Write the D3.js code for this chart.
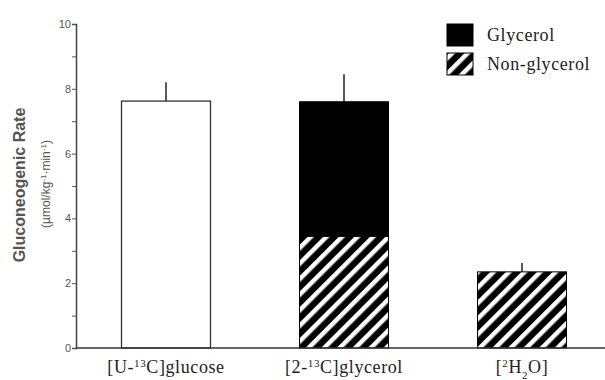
<!DOCTYPE html>
<html>
<head>
<meta charset="utf-8">
<script src="https://cdn.jsdelivr.net/npm/d3@7"></script>
<style>
  body { margin: 0; background: #fff; }
  svg { display: block; }
</style>
</head>
<body>
<svg id="chart" width="605" height="380"></svg>
<script>
// data
var methods = ["glucose", "glycerol", "water"];
var glycerolPart = [0, 4.15, 0];
var nonGlycerolPart = [0, 3.45, 2.35];
var wholeBar = [7.62, 0, 0];
var errTop = [8.2, 8.45, 2.62];
var yTicks = [0, 2, 4, 6, 8, 10];

var svg = d3.select("#chart");

// scales
var x = d3.scaleBand().domain(methods).range([77, 611]).paddingInner(0.5).paddingOuter(0.25);
var y = d3.scaleLinear().domain([0, 10]).range([348, 24]);

// hatch pattern
var defs = svg.append("defs");
var pat = defs.append("pattern")
	.attr("id", "hatch")
	.attr("patternUnits", "userSpaceOnUse")
	.attr("width", 11).attr("height", 11)
	.attr("patternTransform", "rotate(45)");
pat.append("rect").attr("width", 11).attr("height", 11).attr("fill", "#000");
pat.append("rect").attr("x", 0).attr("width", 4.5).attr("height", 11).attr("fill", "#fff");

var g = svg.append("g");

// error bars (behind the bars)
g.selectAll("line.err")
	.data(methods)
	.enter()
	.append("line")
	.attr("class", "err")
	.attr("x1", function(d) { return x(d) + x.bandwidth() / 2; })
	.attr("x2", function(d) { return x(d) + x.bandwidth() / 2; })
	.attr("y1", function(d, i) { return y(wholeBar[i] + glycerolPart[i] + nonGlycerolPart[i]); })
	.attr("y2", function(d, i) { return y(errTop[i]); })
	.attr("stroke", "#222")
	.attr("stroke-width", 1.5);

// white bar
g.selectAll("rect.whole")
	.data(methods.filter(function(d, i) { return wholeBar[i] > 0; }))
	.enter()
	.append("rect")
	.attr("class", "whole")
	.attr("x", function(d) { return x(d); })
	.attr("width", x.bandwidth())
	.attr("y", function(d) { return y(wholeBar[methods.indexOf(d)]); })
	.attr("height", function(d) { return y(0) - y(wholeBar[methods.indexOf(d)]); })
	.attr("fill", "#fff")
	.attr("stroke", "#333")
	.attr("stroke-width", 1.3);

// non-glycerol (hatched)
g.selectAll("rect.nong")
	.data(methods.filter(function(d, i) { return nonGlycerolPart[i] > 0; }))
	.enter()
	.append("rect")
	.attr("class", "nong")
	.attr("x", function(d) { return x(d); })
	.attr("width", x.bandwidth())
	.attr("y", function(d) { return y(nonGlycerolPart[methods.indexOf(d)]); })
	.attr("height", function(d) { return y(0) - y(nonGlycerolPart[methods.indexOf(d)]); })
	.attr("fill", "url(#hatch)")
	.attr("stroke", "#000")
	.attr("stroke-width", 1);

// glycerol (black) stacked on top
g.selectAll("rect.gly")
	.data(methods.filter(function(d, i) { return glycerolPart[i] > 0; }))
	.enter()
	.append("rect")
	.attr("class", "gly")
	.attr("x", function(d) { return x(d); })
	.attr("width", x.bandwidth())
	.attr("y", function(d) {
		var i = methods.indexOf(d);
		return y(nonGlycerolPart[i] + glycerolPart[i]);
	})
	.attr("height", function(d) {
		var i = methods.indexOf(d);
		return y(nonGlycerolPart[i]) - y(nonGlycerolPart[i] + glycerolPart[i]);
	})
	.attr("fill", "#000")
	.attr("stroke", "#000")
	.attr("stroke-width", 1);

// y axis
var yAxis = d3.axisLeft(y)
	.tickValues(d3.range(0, 11, 1))
	.tickSize(4)
	.tickFormat(function(d) { return yTicks.indexOf(d) >= 0 ? d : ""; });
var ya = svg.append("g").attr("transform", "translate(76,0)").call(yAxis);
ya.select(".domain").attr("stroke", "#444").attr("stroke-width", 1.5);
ya.selectAll(".tick line").attr("stroke", "#555");
ya.selectAll(".tick text")
	.attr("fill", "#555")
	.attr("font-family", "Liberation Sans, Arial, sans-serif")
	.attr("font-size", 11)
	.attr("x", -5);

// x axis line
svg.append("line")
	.attr("x1", 76).attr("x2", 605)
	.attr("y1", y(0)).attr("y2", y(0))
	.attr("stroke", "#333")
	.attr("stroke-width", 1.5);

// x labels with super/subscripts
var serif = "Liberation Serif, Times New Roman, serif";
function label(cx, parts) {
	var t = svg.append("text")
		.attr("x", cx).attr("y", 373)
		.attr("text-anchor", "middle")
		.attr("font-family", serif)
		.attr("font-size", 18)
		.attr("letter-spacing", 0.6)
		.attr("fill", "#222");
	parts.forEach(function(p) {
		var ts = t.append("tspan").text(p[0]);
		if (p[1] == "sup") ts.attr("font-size", 11).attr("baseline-shift", "super");
		if (p[1] == "sub") ts.attr("font-size", 11).attr("baseline-shift", "sub");
	});
}
label(x("glucose") + x.bandwidth() / 2, [["[U-"], ["13", "sup"], ["C]glucose"]]);
label(x("glycerol") + x.bandwidth() / 2, [["[2-"], ["13", "sup"], ["C]glycerol"]]);
label(x("water") + x.bandwidth() / 2, [["["], ["2", "sup"], ["H"], ["2", "sub"], ["O]"]]);

// y title
svg.append("text")
	.attr("transform", "translate(25,185) rotate(-90)")
	.attr("text-anchor", "middle")
	.attr("font-family", "Liberation Sans, Arial, sans-serif")
	.attr("font-size", 16)
	.attr("font-weight", "bold")
	.attr("fill", "#555")
	.text("Gluconeogenic Rate");
var yt2 = svg.append("text")
	.attr("transform", "translate(50,184) rotate(-90)")
	.attr("text-anchor", "middle")
	.attr("font-family", "Liberation Sans, Arial, sans-serif")
	.attr("font-size", 12)
	.attr("fill", "#555");
yt2.append("tspan").text("(µmol/kg");
yt2.append("tspan").text("-1").attr("font-size", 8).attr("baseline-shift", "super");
yt2.append("tspan").text("·min");
yt2.append("tspan").text("-1").attr("font-size", 8).attr("baseline-shift", "super");
yt2.append("tspan").text(")");

// legend
var legendItems = ["Glycerol", "Non-glycerol"];
var legendFill = ["#000", "url(#hatch)"];
var lg = svg.append("g").attr("transform", "translate(447,24)");
lg.selectAll("rect")
	.data(legendItems)
	.enter()
	.append("rect")
	.attr("x", 0)
	.attr("y", function(d, i) { return i * 29; })
	.attr("width", 26)
	.attr("height", 22)
	.attr("fill", function(d, i) { return legendFill[i]; })
	.attr("stroke", "#000");
lg.selectAll("text")
	.data(legendItems)
	.enter()
	.append("text")
	.attr("x", 40)
	.attr("y", function(d, i) { return i * 29 + 17; })
	.attr("font-family", serif)
	.attr("font-size", 18)
	.attr("letter-spacing", 0.6)
	.attr("fill", "#222")
	.text(function(d) { return d; });
</script>
</body>
</html>
